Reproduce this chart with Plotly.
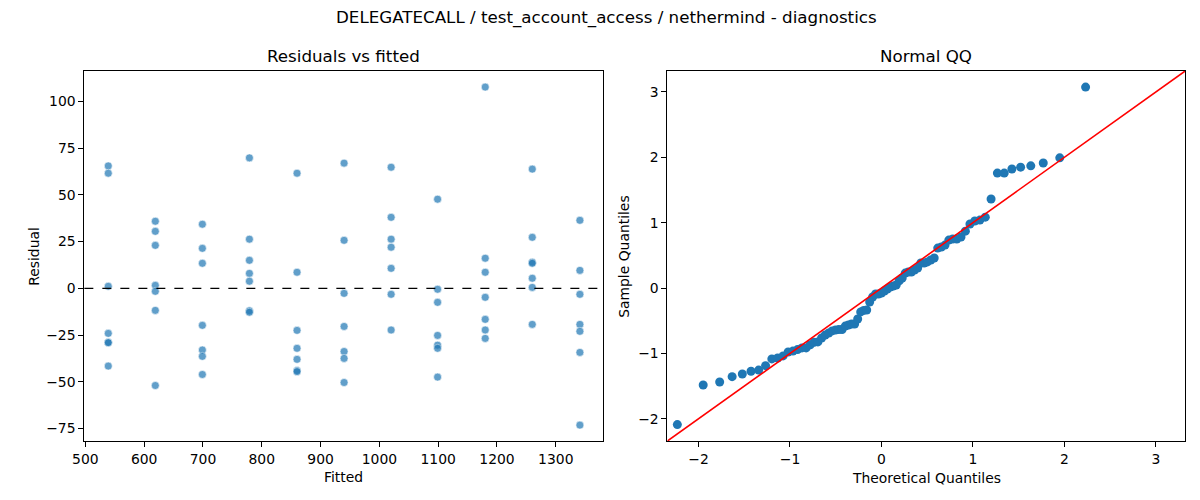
import numpy as np
import plotly.graph_objects as go
from statistics import NormalDist

# ---------------------------------------------------------------------------
# values
fitted_levels = [539, 619, 699, 779, 860, 940, 1020, 1099, 1180, 1260, 1341]

res_539 = [65.5, 61.6, 1.1, -24.1, -28.9, -29.1, -41.6]
res_619 = [35.9, 30.5, 23.0, 1.6, -1.6, -11.8, -52.0]
res_699 = [34.3, 21.4, 13.4, -19.8, -33.0, -36.4, -46.1]
res_779 = [69.8, 26.3, 15.0, 8.0, 3.8, -12.0, -12.8]
res_860 = [61.6, 8.6, -22.5, -32.1, -38.0, -44.0, -44.6]
res_940 = [67.0, 25.7, -2.7, -20.4, -33.8, -37.5, -50.4]
res_1020 = [64.8, 38.0, 26.3, 22.0, 10.7, -3.2, -22.3]
res_1099 = [47.7, -0.5, -7.5, -25.2, -30.4, -32.1, -47.5]
res_1180 = [107.7, 16.1, 8.6, -4.8, -16.6, -22.3, -26.8]
res_1260 = [63.8, 27.3, 14.0, 13.4, 5.4, 0.5, -19.3]
res_1341 = [36.4, 9.6, -3.2, -19.3, -23.0, -34.3, -73.2]

residual_groups = [res_539, res_619, res_699, res_779, res_860, res_940,
                   res_1020, res_1099, res_1180, res_1260, res_1341]

title = "DELEGATECALL / test_account_access / nethermind - diagnostics"
# ---------------------------------------------------------------------------

fitted = np.concatenate([[f] * len(g) for f, g in zip(fitted_levels, residual_groups)])
resid = np.concatenate(residual_groups)

# normal QQ (standardised residuals vs normal quantiles, i/(n+1) positions)
n = len(resid)
sample_q = np.sort((resid - resid.mean()) / resid.std())
theo_q = np.array([NormalDist().inv_cdf(i / (n + 1)) for i in range(1, n + 1)])
qq_lim = [-2.34, 3.32]

FONT = "DejaVu Sans"
# the page body has an 8px margin, so the figure is drawn 8px in from the corner
OFF = 8
W, H = 1200 - OFF, 500 - OFF

def px(x):
    return (x - OFF) / W

def py(y):
    return 1 - (y - OFF) / H

fig = go.Figure()

fig.add_trace(go.Scatter(
    x=fitted, y=resid, mode="markers", xaxis="x", yaxis="y",
    marker=dict(color="#1f77b4", size=8, opacity=0.7,
                line=dict(color="white", width=0.6)),
    showlegend=False))

fig.add_trace(go.Scatter(
    x=theo_q, y=sample_q, mode="markers", xaxis="x2", yaxis="y2",
    marker=dict(color="#1f77b4", size=9, line=dict(color="#1f77b4", width=0)),
    showlegend=False))

fig.add_trace(go.Scatter(
    x=qq_lim, y=qq_lim, mode="lines", xaxis="x2", yaxis="y2",
    line=dict(color="red", width=1.6), showlegend=False))

# dashed zero line on the residual plot
fig.add_shape(type="line", xref="x domain", yref="y", x0=0, x1=1, y0=0, y1=0,
              line=dict(color="black", width=1.1, dash="dash"))

axis_style = dict(showline=True, linecolor="black", linewidth=1, mirror=True,
                  ticks="outside", ticklen=5, tickcolor="black", tickwidth=1,
                  showgrid=False, zeroline=False,
                  tickfont=dict(family=FONT, size=13.9, color="black"))

fig.update_layout(
    width=W, height=H,
    margin=dict(l=0, r=0, t=0, b=0),
    plot_bgcolor="white", paper_bgcolor="white",
    font=dict(family=FONT, color="black"),
    xaxis=dict(domain=[px(73), px(597)], range=[498.3, 1380.4],
               tickvals=[500, 600, 700, 800, 900, 1000, 1100, 1200, 1300],
               anchor="y", **axis_style),
    yaxis=dict(domain=[py(441), py(71)], range=[-81.7, 116.3],
               tickvals=[-75, -50, -25, 0, 25, 50, 75, 100],
               anchor="x", **axis_style),
    xaxis2=dict(domain=[px(662), px(1185)], range=qq_lim,
                tickvals=[-2, -1, 0, 1, 2, 3], anchor="y2", **axis_style),
    yaxis2=dict(domain=[py(441), py(71)], range=qq_lim,
                tickvals=[-2, -1, 0, 1, 2, 3], anchor="x2", **axis_style),
)

def label(text, x, y, size=13.9, angle=0):
    fig.add_annotation(text=text, x=px(x), y=py(y), xref="paper", yref="paper",
                       xanchor="center", yanchor="middle", showarrow=False,
                       textangle=angle, font=dict(family=FONT, size=size, color="black"))

label(title, 600, 18, size=16.7)
label("Residuals vs fitted", 335, 56, size=16.7)
label("Normal QQ", 923.5, 56, size=16.7)
label("Fitted", 335, 477)
label("Theoretical Quantiles", 923.5, 478)
label("Residual", 22, 256, angle=-90)
label("Sample Quantiles", 618, 256, angle=-90)

fig.write_html("out.html")
